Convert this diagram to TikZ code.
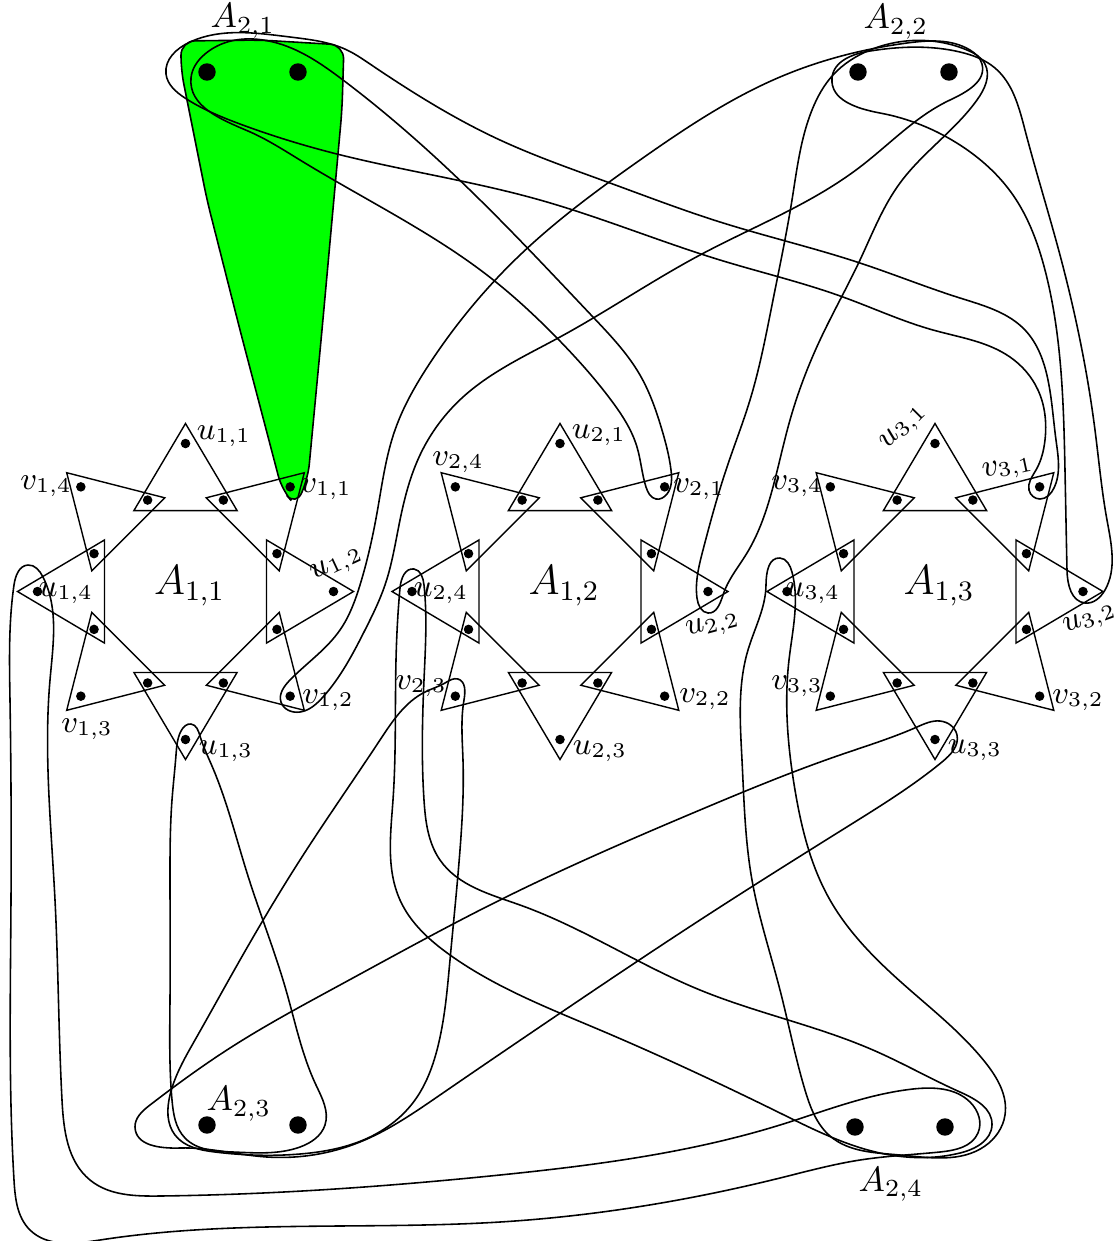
\documentclass[tikz,border=0pt]{standalone}
\usetikzlibrary{hobby}
\tikzset{
    every node/.style={font=\small},
    sdot/.style={circle, fill, draw, inner sep=0pt, minimum size=0.8mm},
    bdot/.style={circle, fill, draw, inner sep=0pt, minimum size=1.6mm},
    gname/.style={font=\large},
    pname/.style={font=\normalsize},
    hedge/.style={line width=0.45pt}
}

\begin{document}
\begin{tikzpicture}[x=0.01cm, y=-0.01cm]
  \useasboundingbox (0,0) rectangle (1117,1241);

  % the green edge A_{2,1} -- v_{1,1}
  \draw[hedge, fill=green, rounded corners=4pt] (260,40) -- (344,45) -- (342,110) -- (322,330) -- (308,478) -- (296,506) -- (282,490) -- (240,330) -- (207,200) -- (181,70) -- (181,41) -- cycle;

  % the gadgets A_{1,j}
  \foreach \cx/\g in {185.5/1, 560/2, 935/3} {
    \begin{scope}[shift={(\cx,591.5)}]
      \foreach \a in {0,45,...,315} {
        \draw (\a:168) -- (\a+32.5:96) -- (\a-32.5:96) -- cycle;
        \node[sdot] (t\g-\a) at (\a:148) {};
        \node[sdot] (o\g-\a) at (\a+22.5:99) {};
      }
      \node[gname] (A1\g) at (4,-6) {$A_{1,\g}$};
    \end{scope}
  }

  % the pairs A_{2,j}
  \node[bdot] (a21l) at (207,72) {};
  \node[bdot] (a21r) at (298,72) {};
  \node[bdot] (a22l) at (858,72) {};
  \node[bdot] (a22r) at (949,72) {};
  \node[bdot] (a23l) at (207,1125) {};
  \node[bdot] (a23r) at (298,1125) {};
  \node[bdot] (a24l) at (855,1127) {};
  \node[bdot] (a24r) at (945,1127) {};
  \node[pname] (A21) at (243,21) {$A_{2,1}$};
  \node[pname] (A22) at (896,22) {$A_{2,2}$};
  \node[pname] (A23) at (239,1104) {$A_{2,3}$};
  \node[pname] (A24) at (891,1184) {$A_{2,4}$};

  % labels
  \node (u11) at (224,436) {$u_{1,1}$};
  \node (v11) at (326,489) {$v_{1,1}$};
  \node[rotate=25] (u12) at (337,565) {$u_{1,2}$};
  \node (v12) at (328,700) {$v_{1,2}$};
  \node (u13) at (226,751) {$u_{1,3}$};
  \node (v13) at (87,729) {$v_{1,3}$};
  \node (u14) at (66,593) {$u_{1,4}$};
  \node (v14) at (46,486) {$v_{1,4}$};
  \node (u21) at (599,435) {$u_{2,1}$};
  \node (v21) at (699,489) {$v_{2,1}$};
  \node[rotate=15] (u22) at (713,626) {$u_{2,2}$};
  \node (v22) at (705,699) {$v_{2,2}$};
  \node (u23) at (600,751) {$u_{2,3}$};
  \node (v23) at (421,686) {$v_{2,3}$};
  \node (u24) at (441,593) {$u_{2,4}$};
  \node (v24) at (458,462) {$v_{2,4}$};
  \node[rotate=45] (u31) at (904,428) {$u_{3,1}$};
  \node[rotate=12] (v31) at (1008,469) {$v_{3,1}$};
  \node[rotate=20] (u32) at (1090,620) {$u_{3,2}$};
  \node (v32) at (1078,700) {$v_{3,2}$};
  \node (u33) at (975,750) {$u_{3,3}$};
  \node (v33) at (797,686) {$v_{3,3}$};
  \node (u34) at (813,593) {$u_{3,4}$};
  \node (v34) at (797,486) {$v_{3,4}$};

  % edges through A_{2,1}
  \draw[hedge] plot[closed hobby] coordinates {(191,78) (205,54) (300,52) (343,80) (473,193) (593,317) (640,375) (662,430) (671,470) (667,494) (656,499) (646,487) (637,447) (611,400) (557,338) (487,275) (400,218) (300,160) (248,131)};
  \draw[hedge] plot[closed hobby] coordinates {(166,74) (190,42) (290,37) (347,50) (370,64) (500,140) (610,183) (720,222) (860,263) (960,298) (1025,330) (1048,380) (1056,440) (1054,488) (1040,499) (1029,490) (1036,470) (1045,440) (1038,390) (1010,357) (933,330) (843,297) (720,260) (540,200) (333,153) (240,124) (185,98)};

  % edges through A_{2,2}
  \draw[hedge] plot[closed hobby] coordinates {(780,77) (907,43) (970,50) (982,64) (950,100) (860,167) (700,255) (560,337) (463,397) (420,455) (400,520) (385,585) (365,630) (323,697) (300,712) (281,702) (290,680) (340,630) (360,585) (377,513) (395,430) (430,363) (520,255) (640,160)};
  \draw[hedge] plot[closed hobby] coordinates {(833,75) (870,50) (967,50) (985,64) (977,100) (900,183) (860,260) (820,340) (790,420) (773,487) (747,553) (723,595) (708,613) (697,598) (703,550) (727,467) (750,400) (773,300) (792,200) (812,110)};
  \draw[hedge] plot[closed hobby] coordinates {(832,78) (880,113) (960,145) (1013,195) (1045,270) (1060,360) (1065,470) (1067,570) (1085,603) (1105,590) (1107,520) (1095,430) (1080,340) (1060,255) (1025,130) (995,68) (960,52) (870,51)};

  % edges through A_{2,3}
  \draw[hedge] plot[closed hobby] coordinates {(176,755) (181,731) (191,724) (200,736) (212,766) (248,876) (286,990) (316,1085) (325,1125) (300,1147) (233,1152) (185,1138) (172,1100) (170,1000) (170,880) (172,800)};
  \draw[hedge] plot[closed hobby] coordinates {(445,683) (458,679) (464,700) (463,760) (460,850) (450,960) (437,1050) (415,1100) (370,1137) (300,1154) (215,1152) (175,1135) (170,1095) (195,1040) (240,960) (300,860) (380,740) (425,692)};
  \draw[hedge] plot[closed hobby] coordinates {(917,727) (940,721) (957,735) (942,762) (850,825) (700,920) (550,1020) (440,1095) (360,1142) (267,1157) (180,1148) (135,1127) (150,1105) (230,1048) (340,985) (500,900) (700,810) (840,755)};

  % edges through A_{2,4}
  \draw[hedge] plot[closed hobby] coordinates {(14,585) (28,565) (43,577) (50,680) (55,900) (62,1100) (90,1180) (160,1196) (500,1175) (780,1125) (913,1089) (970,1102) (978,1133) (940,1152) (860,1160) (780,1178) (500,1222) (100,1240) (30,1230) (14,1180) (11,900) (10,700)};
  \draw[hedge] plot[closed hobby] coordinates {(400,588) (414,569) (424,585) (424,680) (424,800) (440,860) (520,905) (700,990) (873,1050) (960,1092) (992,1125) (960,1153) (880,1153) (780,1113) (600,1030) (450,955) (400,900) (393,800) (396,660)};
  \draw[hedge] plot[closed hobby] coordinates {(766,585) (780,558) (792,572) (789,660) (795,790) (830,900) (910,990) (985,1062) (1005,1115) (985,1146) (900,1155) (830,1136) (805,1090) (780,990) (752,880) (742,760) (748,650)};
\end{tikzpicture}
\end{document}
